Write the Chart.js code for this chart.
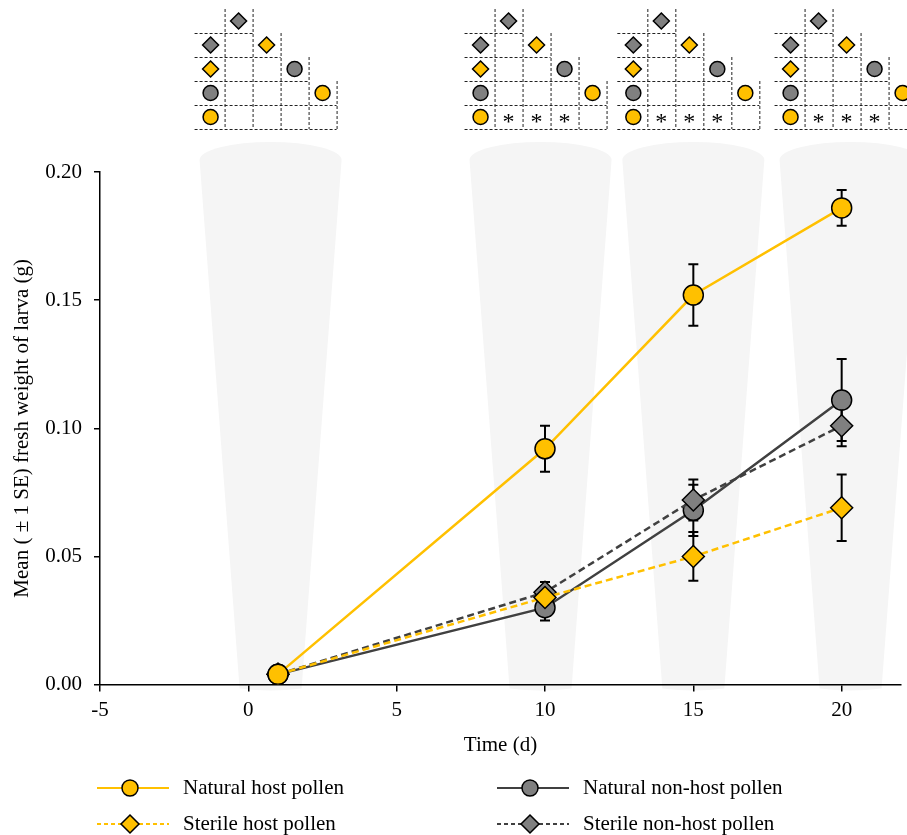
<!DOCTYPE html>
<html>
<head>
<meta charset="utf-8">
<script src="https://cdn.jsdelivr.net/npm/chart.js@4.4.0/dist/chart.umd.min.js"></script>
<style>
html, body { margin: 0; padding: 0; background: #fff; }
#wrap { width: 907px; height: 835px; }
</style>
</head>
<body>
<div id="wrap"><canvas id="larvaChart"></canvas></div>
<script>
// values
const days = [1, 10, 15, 20];
const naturalHost = [0.004, 0.092, 0.152, 0.186];
const naturalHostSE = [0.001, 0.009, 0.012, 0.007];
const sterileHost = [0.004, 0.034, 0.050, 0.069];
const sterileHostSE = [0.001, 0.004, 0.0095, 0.013];
const sterileNonHost = [0.004, 0.036, 0.072, 0.101];
const sterileNonHostSE = [0.001, 0.004, 0.008, 0.008];
const naturalNonHost = [0.004, 0.030, 0.068, 0.111];
const naturalNonHostSE = [0.001, 0.005, 0.010, 0.016];

const xTicks = [-5, 0, 5, 10, 15, 20];
const yTicks = [0, 0.05, 0.10, 0.15, 0.20];

// grey bands behind the sampling days, and the comparison matrix above each
const bandCenters = [0.75, 9.85, 15.0, 20.3];
const matrixStars = [[], [1, 2, 3], [1, 2, 3], [1, 2, 3]]; // starred cells in the bottom row

const GOLD = '#FFC000';
const GREY = '#808080';
const DARK = '#404040';
const FONT = "'Liberation Serif', 'Times New Roman', serif";

Chart.defaults.font.family = FONT;
Chart.defaults.font.size = 21;
Chart.defaults.color = '#000';

function series(label, values, se, lineColor, fill, style, dash) {
    return {
        label: label,
        data: values.map((v, i) => ({ x: days[i], y: v })),
        se: se,
        borderColor: lineColor,
        borderWidth: 2.5,
        borderDash: dash,
        pointStyle: style,
        pointRadius: style === 'circle' ? 10 : 11,
        pointBackgroundColor: fill,
        pointBorderColor: '#000',
        pointBorderWidth: 1.5,
        tension: 0
    };
}

const datasets = [
    series('Natural host pollen', naturalHost, naturalHostSE, GOLD, GOLD, 'circle', []),
    series('Sterile host pollen', sterileHost, sterileHostSE, GOLD, GOLD, 'rectRot', [7, 4]),
    series('Sterile non-host pollen', sterileNonHost, sterileNonHostSE, DARK, GREY, 'rectRot', [7, 4]),
    series('Natural non-host pollen', naturalNonHost, naturalNonHostSE, DARK, GREY, 'circle', [])
];

// symbol order used in the matrices: top row label first
const matrixOrder = [2, 1, 3, 0];

function drawMarker(ctx, style, x, y, r, fill) {
    ctx.save();
    ctx.setLineDash([]);
    ctx.beginPath();
    if (style === 'circle') {
        ctx.arc(x, y, r, 0, Math.PI * 2);
    } else {
        ctx.moveTo(x, y - r);
        ctx.lineTo(x + r, y);
        ctx.lineTo(x, y + r);
        ctx.lineTo(x - r, y);
        ctx.closePath();
    }
    ctx.fillStyle = fill;
    ctx.fill();
    ctx.lineWidth = 1.5;
    ctx.strokeStyle = '#000';
    ctx.stroke();
    ctx.restore();
}

const bandsPlugin = {
    id: 'bands',
    beforeDraw(chart) {
        const { ctx, chartArea, scales } = chart;
        const sideTop = chartArea.top - 12;
        const capH = 18;
        const bottom = chartArea.bottom + 4;
        ctx.save();
        ctx.fillStyle = '#f5f5f5';
        bandCenters.forEach(c => {
            const cx = scales.x.getPixelForValue(c);
            const wt = 71, wb = 31;
            ctx.beginPath();
            ctx.ellipse(cx, sideTop, wt, capH, 0, Math.PI, Math.PI * 2);
            ctx.lineTo(cx + wb, bottom);
            ctx.quadraticCurveTo(cx, bottom + 4, cx - wb, bottom);
            ctx.closePath();
            ctx.fill();
        });
        ctx.restore();
    }
};

const errorBarsPlugin = {
    id: 'errorBars',
    beforeDatasetsDraw(chart) {
        const { ctx, scales } = chart;
        ctx.save();
        ctx.strokeStyle = '#000';
        ctx.lineWidth = 2;
        chart.data.datasets.forEach(ds => {
            ds.data.forEach((p, i) => {
                const x = scales.x.getPixelForValue(p.x);
                const yt = scales.y.getPixelForValue(p.y + ds.se[i]);
                const yb = scales.y.getPixelForValue(p.y - ds.se[i]);
                ctx.beginPath();
                ctx.moveTo(x, yt); ctx.lineTo(x, yb);
                ctx.moveTo(x - 5, yt); ctx.lineTo(x + 5, yt);
                ctx.moveTo(x - 5, yb); ctx.lineTo(x + 5, yb);
                ctx.stroke();
            });
        });
        ctx.restore();
    }
};

const matrixPlugin = {
    id: 'matrices',
    afterDraw(chart) {
        const { ctx, scales } = chart;
        const cw = 28, rh = 24, top = 9;
        const ds = chart.data.datasets;
        bandCenters.forEach((c, m) => {
            const left = scales.x.getPixelForValue(c) - 74;
            ctx.save();
            ctx.strokeStyle = '#222';
            ctx.lineWidth = 1;
            ctx.setLineDash([3, 2]);
            ctx.beginPath();
            for (let r = 0; r < 5; r++) {
                const y = top + (r + 1) * rh + 0.5;
                ctx.moveTo(left - 2, y);
                ctx.lineTo(left + cw * Math.min(r + 2, 5), y);
            }
            for (let k = 0; k < 5; k++) {
                const x = left + (k + 1) * cw + 0.5;
                ctx.moveTo(x, top + Math.max(k - 1, 0) * rh);
                ctx.lineTo(x, top + 5 * rh);
            }
            ctx.stroke();
            ctx.restore();
            matrixOrder.forEach((di, i) => {
                const d = ds[di];
                const r = d.pointStyle === 'circle' ? 7.5 : 8;
                drawMarker(ctx, d.pointStyle, left + cw / 2, top + (i + 1.5) * rh, r, d.pointBackgroundColor);
                drawMarker(ctx, d.pointStyle, left + (i + 1.5) * cw, top + (i + 0.5) * rh, r, d.pointBackgroundColor);
            });
            ctx.save();
            ctx.fillStyle = '#000';
            ctx.font = '24px ' + FONT;
            ctx.textAlign = 'center';
            ctx.textBaseline = 'middle';
            matrixStars[m].forEach(col => {
                ctx.fillText('*', left + (col + 0.5) * cw, top + 4.5 * rh + 6);
            });
            ctx.restore();
        });
    }
};

const legendPlugin = {
    id: 'customLegend',
    afterDraw(chart) {
        const { ctx } = chart;
        const ds = chart.data.datasets;
        const slots = [[0, 97, 788], [3, 497, 788], [1, 97, 824], [2, 497, 824]];
        slots.forEach(([di, x, y]) => {
            const d = ds[di];
            ctx.save();
            ctx.strokeStyle = d.borderColor;
            ctx.lineWidth = 2;
            ctx.setLineDash(d.borderDash.length ? [4, 3] : []);
            ctx.beginPath();
            ctx.moveTo(x, y); ctx.lineTo(x + 72, y);
            ctx.stroke();
            ctx.restore();
            drawMarker(ctx, d.pointStyle, x + 33, y, d.pointStyle === 'circle' ? 8 : 9, d.pointBackgroundColor);
            ctx.save();
            ctx.fillStyle = '#000';
            ctx.font = '21px ' + FONT;
            ctx.textBaseline = 'middle';
            ctx.fillText(d.label, x + 86, y);
            ctx.restore();
        });
    }
};

new Chart(document.getElementById('larvaChart'), {
    type: 'line',
    data: { datasets: datasets },
    plugins: [bandsPlugin, errorBarsPlugin, matrixPlugin, legendPlugin],
    options: {
        responsive: true,
        maintainAspectRatio: false,
        animation: false,
        layout: { autoPadding: false, padding: { top: 172, right: 6, bottom: 73, left: 0 } },
        plugins: { legend: { display: false }, tooltip: { enabled: false } },
        scales: {
            x: {
                type: 'linear',
                min: -5,
                max: 22,
                afterBuildTicks: s => { s.ticks = xTicks.map(v => ({ value: v })); },
                afterFit: s => { s.paddingLeft = 0; s.paddingRight = 0; },
                ticks: { padding: 6, callback: v => String(v) },
                grid: { drawOnChartArea: false, drawTicks: true, tickLength: 7, color: '#000', lineWidth: 1.5 },
                border: { color: '#000', width: 1.5 },
                title: { display: true, text: 'Time (d)', padding: { top: 4, bottom: 4 } }
            },
            y: {
                min: 0,
                max: 0.2,
                afterBuildTicks: s => { s.ticks = yTicks.map(v => ({ value: v })); },
                afterFit: s => { s.width = 100; },
                ticks: { padding: 12, callback: v => v.toFixed(2) },
                grid: { drawOnChartArea: false, drawTicks: true, tickLength: 6, color: '#000', lineWidth: 1.5 },
                border: { color: '#000', width: 1.5 },
                title: { display: true, text: 'Mean ( \u00b1 1 SE) fresh weight of larva (g)', padding: { top: 10, bottom: 0 } }
            }
        }
    }
});
</script>
</body>
</html>
